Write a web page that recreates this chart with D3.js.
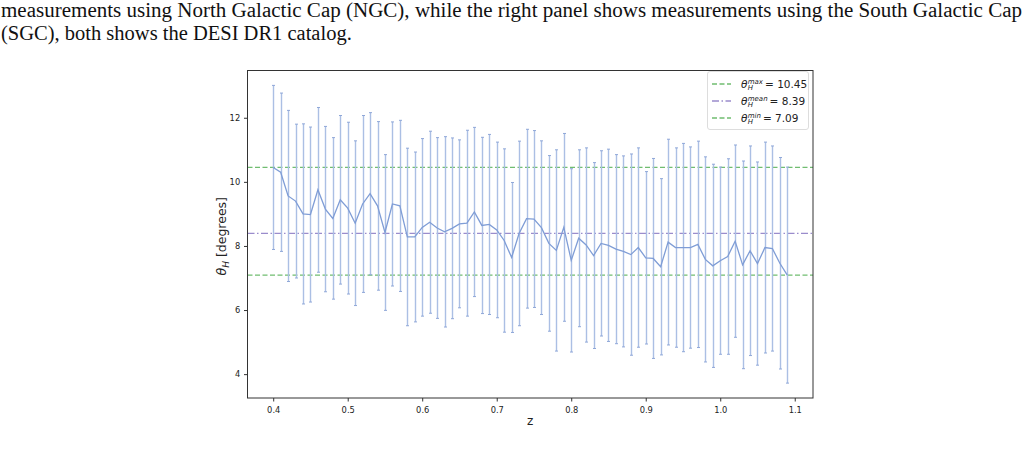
<!DOCTYPE html>
<html><head><meta charset="utf-8">
<script src="https://cdn.jsdelivr.net/npm/d3@7"></script>
<style>body{margin:0;background:#fff;} svg{display:block;}</style>
</head><body>
<svg id="c" width="1027" height="462"></svg>
<script>
const redshift = [0.40,0.41,0.42,0.43,0.44,0.45,0.46,0.47,0.48,0.49,0.50,0.51,0.52,0.53,0.54,0.55,0.56,0.57,0.58,0.59,
0.60,0.61,0.62,0.63,0.64,0.65,0.66,0.67,0.68,0.69,0.70,0.71,0.72,0.73,0.74,0.75,0.76,0.77,0.78,0.79,
0.80,0.81,0.82,0.83,0.84,0.85,0.86,0.87,0.88,0.89,0.90,0.91,0.92,0.93,0.94,0.95,0.96,0.97,0.98,0.99,
1.00,1.01,1.02,1.03,1.04,1.05,1.06,1.07,1.08,1.09];
const thetaH = [10.45,10.30,9.56,9.40,9.00,8.98,9.75,9.15,8.86,9.44,
9.18,8.71,9.31,9.63,9.25,8.42,9.31,9.25,8.28,8.28,
8.58,8.74,8.56,8.44,8.55,8.69,8.71,9.06,8.64,8.67,
8.50,8.17,7.64,8.39,8.85,8.84,8.57,8.08,7.86,8.58,
7.55,8.24,8.03,7.70,8.08,8.02,7.90,7.83,7.73,7.95,
7.63,7.61,7.35,8.12,7.95,7.95,7.95,8.05,7.58,7.38,
7.54,7.67,8.15,7.41,7.85,7.45,7.95,7.92,7.46,7.09];
const thetaErr = [2.56,2.47,2.67,2.40,2.81,2.73,2.57,2.58,2.52,2.63,
2.68,2.57,2.76,2.53,2.63,2.43,2.56,2.67,2.77,2.65,
2.77,2.84,2.82,2.97,2.82,2.62,2.90,2.64,2.75,2.81,
2.74,2.86,2.34,2.88,2.79,2.76,2.71,2.74,3.14,2.93,
2.86,2.76,3.03,2.90,2.89,3.00,2.95,2.98,3.14,3.11,
2.69,3.12,2.75,3.21,3.11,3.25,3.14,3.22,3.20,3.17,
2.92,3.05,3.00,3.24,3.27,3.17,3.29,3.20,3.30,3.37];
const refNames = ["max","mean","min"];
const refValues = [10.45, 8.39, 7.09];
const xTicks = [0.4,0.5,0.6,0.7,0.8,0.9,1.0,1.1];
const yTicks = [4,6,8,10,12];
const captionLines = ["measurements using North Galactic Cap (NGC), while the right panel shows measurements using the South Galactic Cap",
"(SGC), both shows the DESI DR1 catalog."];

const svg = d3.select("#c");
const L=247.5, R=813, T=70.5, B=398;
const x = d3.scaleLinear().domain([0.3655,1.1245]).range([L,R]);
const y = d3.scaleLinear().domain([3.2555,13.4745]).range([B,T]);

const serif = "Liberation Serif, DejaVu Serif, serif";
// caption
svg.append("text").attr("x",1).attr("y",17).attr("font-family",serif)
  .attr("font-size",20.5).attr("fill","#111").attr("textLength",1021).attr("lengthAdjust","spacingAndGlyphs").text(captionLines[0]);
svg.append("text").attr("x",1).attr("y",40).attr("font-family",serif)
  .attr("font-size",20.5).attr("fill","#111").text(captionLines[1]);

const sans = "DejaVu Sans, sans-serif";
const g = svg.append("g");

// reference lines
const refStyle = [
  {c:"#70bd70", dash:"5,2.5"},
  {c:"#9a8ccc", dash:"7,2.5,1.5,2.5"},
  {c:"#70bd70", dash:"5,2.5"}
];
refValues.forEach((v,i)=>{
  g.append("line").attr("x1",L).attr("x2",R).attr("y1",y(v)).attr("y2",y(v))
   .attr("stroke",refStyle[i].c).attr("stroke-width",1.3).attr("stroke-dasharray",refStyle[i].dash);
});

// error bars
const eb = g.append("g");
redshift.forEach((z,i)=>{
  const xx = Math.round(x(z))+0.5;
  eb.append("line").attr("x1",xx).attr("x2",xx).attr("y1",y(thetaH[i]-thetaErr[i])).attr("y2",y(thetaH[i]+thetaErr[i]))
    .attr("stroke","#abbfe4").attr("stroke-width",1.4);
  [thetaH[i]-thetaErr[i], thetaH[i]+thetaErr[i]].forEach(v=>{
    eb.append("line").attr("x1",xx-1.5).attr("x2",xx+1.5).attr("y1",y(v)).attr("y2",y(v))
      .attr("stroke","#8fa7d8").attr("stroke-width",1);
  });
});

// line
g.append("path").datum(redshift.map((z,i)=>[z,thetaH[i]]))
  .attr("d", d3.line().x(d=>x(d[0])).y(d=>y(d[1])))
  .attr("fill","none").attr("stroke","#7f9dd6").attr("stroke-width",1.3);

// frame
svg.append("rect").attr("x",L).attr("y",T).attr("width",R-L).attr("height",B-T)
  .attr("fill","none").attr("stroke","#333").attr("stroke-width",1);

// axes
const xa = svg.append("g").attr("transform",`translate(0,${B})`)
  .call(d3.axisBottom(x).tickValues(xTicks).tickFormat(d3.format(".1f")).tickSize(3.5).tickSizeOuter(0));
const ya = svg.append("g").attr("transform",`translate(${L},0)`)
  .call(d3.axisLeft(y).tickValues(yTicks).tickFormat(d3.format("d")).tickSize(3.5).tickSizeOuter(0));
[xa,ya].forEach(a=>{
  a.select(".domain").remove();
  a.selectAll("line").attr("stroke","#333");
  a.selectAll("text").attr("font-family",sans).attr("font-size",8.3).attr("fill","#222");
});
xa.selectAll("text").attr("dy","1.05em");
ya.selectAll("text").attr("dx","-0.1em");

// axis labels
svg.append("text").attr("x",(L+R)/2).attr("y",425).attr("text-anchor","middle")
  .attr("font-family",sans).attr("font-size",12).attr("fill","#222").text("z");
const yl = svg.append("text").attr("transform",`translate(226,${(T+B)/2+2}) rotate(-90)`).attr("text-anchor","middle")
  .attr("font-family",sans).attr("font-size",12.5).attr("fill","#222");
yl.append("tspan").attr("font-style","italic").text("θ");
yl.append("tspan").attr("font-style","italic").attr("font-size",9).attr("dy",3).text("H");
yl.append("tspan").attr("dy",-3).text(" [degrees]");

// legend
const lg = svg.append("g");
lg.append("rect").attr("x",707.5).attr("y",71.5).attr("width",101).attr("height",58).attr("rx",2.5)
  .attr("fill","#fff").attr("fill-opacity",0.85).attr("stroke","#ddd");
refNames.forEach((n,i)=>{
  const yy = 84 + i*17;
  lg.append("line").attr("x1",712).attr("x2",731).attr("y1",yy).attr("y2",yy)
    .attr("stroke",refStyle[i].c).attr("stroke-width",1.3).attr("stroke-dasharray",refStyle[i].dash);
  const th = lg.append("text").attr("x",741).attr("y",yy+3.5).attr("font-family",sans).attr("font-size",10.5)
    .attr("font-style","italic").attr("fill","#222").text("θ");
  const tw = th.node().getComputedTextLength();
  const sup = lg.append("text").attr("x",741+tw+0.3).attr("y",yy-0.5).attr("font-family",sans).attr("font-size",7)
    .attr("font-style","italic").attr("fill","#222").text(n);
  const sub = lg.append("text").attr("x",741+tw+0.3).attr("y",yy+6).attr("font-family",sans).attr("font-size",7)
    .attr("font-style","italic").attr("fill","#222").text("H");
  const w = Math.max(sup.node().getComputedTextLength(), sub.node().getComputedTextLength());
  lg.append("text").attr("x",741+tw+0.3+w+2).attr("y",yy+3.5).attr("font-family",sans).attr("font-size",10.5)
    .attr("fill","#222").text("= " + refValues[i].toFixed(2));
});
</script>
</body></html>
